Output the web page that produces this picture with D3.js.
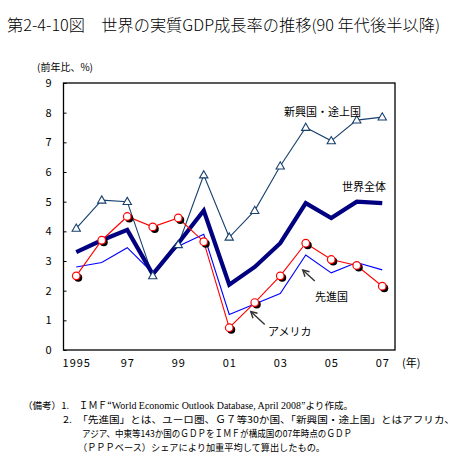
<!DOCTYPE html>
<html><head><meta charset="utf-8">
<script src="https://cdn.jsdelivr.net/npm/d3@7"></script>
<style>body{margin:0;background:#fff}svg{display:block}text{font-family:"Noto Sans CJK JP","Noto Sans",sans-serif}</style>
</head><body><svg id="c" width="462" height="476"></svg>
<script>
const years = [1995,1996,1997,1998,1999,2000,2001,2002,2003,2004,2005,2006,2007];
const xTickLabels = {1995:"1995",1997:"97",1999:"99",2001:"01",2003:"03",2005:"05",2007:"07"};
const yTicks = [0,1,2,3,4,5,6,7,8,9];
const emerging = [4.1,5.05,5.0,2.5,3.55,5.9,3.8,4.7,6.2,7.5,7.05,7.75,7.85];
const world    = [3.3,3.7,4.05,2.55,3.6,4.7,2.2,2.8,3.6,4.95,4.45,5.0,4.95];
const advanced = [2.8,2.95,3.45,2.6,3.5,3.9,1.2,1.55,1.9,3.2,2.6,2.95,2.7];
const usa      = [2.5,3.7,4.5,4.15,4.45,3.65,0.75,1.6,2.5,3.6,3.05,2.85,2.15];
const seriesNames = ["新興国・途上国","世界全体","先進国","アメリカ"];
const title = "第2-4-10図　世界の実質GDP成長率の推移(90 年代後半以降)";
const unitLabel = "(前年比、%)";
const yearLabel = "(年)";
const notes = [
  "（備考）1.　ＩＭＦ“",
  "2.　「先進国」とは、ユーロ圏、Ｇ７等30か国、「新興国・途上国」とはアフリカ、",
  "アジア、中東等143か国のＧＤＰをＩＭＦが構成国の07年時点のＧＤＰ",
  "（ＰＰＰベース）シェアにより加重平均して算出したもの。"
];

const svg = d3.select("#c");
const L=63.5, R=395, T=83, B=350;
const x = d3.scalePoint().domain(years).range([L,R]).padding(0.5);
const y = d3.scaleLinear().domain([0,9]).range([B,T]);

svg.append("text").attr("x",7).attr("y",31).attr("font-size",15.5).attr("font-weight",300)
  .attr("textLength",433).attr("lengthAdjust","spacingAndGlyphs").text(title);
svg.append("text").attr("x",37).attr("y",71).attr("font-size",10).text(unitLabel);

// frame
svg.append("rect").attr("x",L).attr("y",T).attr("width",R-L).attr("height",B-T)
  .attr("fill","none").attr("stroke","#000").attr("stroke-width",1.3);

// y axis
const ya = svg.append("g").attr("transform",`translate(${L},0)`)
  .call(d3.axisLeft(y).tickValues(yTicks).tickSize(-3).tickPadding(12).tickFormat(d3.format("d")));
ya.select(".domain").remove();
ya.selectAll("line").attr("stroke","#000");
ya.selectAll("text").attr("font-size",11).attr("font-family","Arial,'Liberation Sans',sans-serif");

// x axis labels
const xa = svg.append("g").attr("transform",`translate(0,${B})`)
  .call(d3.axisBottom(x).tickValues(Object.keys(xTickLabels).map(Number)).tickSize(0).tickPadding(9).tickFormat(d=>xTickLabels[d]));
xa.select(".domain").remove();
xa.selectAll("text").attr("font-size",11).attr("font-family","Arial,'Liberation Sans',sans-serif").attr("letter-spacing",1);
svg.append("text").attr("x",402).attr("y",367).attr("font-size",11).text(yearLabel);

const line = d3.line().x((d,i)=>x(years[i])).y(d=>y(d));

svg.append("path").datum(emerging).attr("d",line).attr("fill","none").attr("stroke","#17406d").attr("stroke-width",1.1);
svg.append("path").datum(advanced).attr("d",line).attr("fill","none").attr("stroke","#0000ff").attr("stroke-width",1.1);
svg.append("path").datum(world).attr("d",line).attr("fill","none").attr("stroke","#000080").attr("stroke-width",4.2).attr("stroke-linejoin","miter");
svg.append("path").datum(usa).attr("d",line).attr("fill","none").attr("stroke","#ff0000").attr("stroke-width",1.1);

// usa markers
svg.selectAll(".us2").data(usa).enter().append("circle")
  .attr("cx",(d,i)=>x(years[i])+2).attr("cy",d=>y(d)+2).attr("r",4).attr("fill","#000");
svg.selectAll(".us").data(usa).enter().append("circle")
  .attr("cx",(d,i)=>x(years[i])).attr("cy",d=>y(d)).attr("r",3.8)
  .attr("fill","#fff").attr("stroke","#ff0000").attr("stroke-width",1.2);

// triangles
const tri = d3.symbol().type(d3.symbolTriangle).size(30);
svg.selectAll(".tri").data(emerging).enter().append("path")
  .attr("d",tri).attr("transform",(d,i)=>`translate(${x(years[i])},${y(d)+0.5})`)
  .attr("fill","#fff").attr("stroke","#17406d").attr("stroke-width",1.1);

// labels
svg.append("text").attr("x",284).attr("y",116).attr("font-size",11).text(seriesNames[0]);
svg.append("text").attr("x",342).attr("y",191).attr("font-size",11).text(seriesNames[1]);
svg.append("text").attr("x",315).attr("y",301).attr("font-size",11).text(seriesNames[2]);
svg.append("text").attr("x",268).attr("y",336).attr("font-size",11).text(seriesNames[3]);

// arrows
function arrow(x1,y1,x2,y2){
  const g=svg.append("g").attr("stroke","#333").attr("stroke-width",1.4).attr("fill","none");
  g.append("line").attr("x1",x1).attr("y1",y1).attr("x2",x2).attr("y2",y2);
  const a=Math.atan2(y2-y1,x2-x1), h=7, w=0.5;
  g.append("path").attr("d",`M${x2-h*Math.cos(a-w)},${y2-h*Math.sin(a-w)}L${x2},${y2}L${x2-h*Math.cos(a+w)},${y2-h*Math.sin(a+w)}`);
}
arrow(x(2004)+9, y(advanced[9])+26, x(2004)-3, y(advanced[9])+15);
arrow(x(2002)+10, y(usa[7])+22, x(2002)-4, y(usa[7])+9);

// notes
const n = svg.append("g").attr("font-size",9.6);
const t1 = n.append("text").attr("x",23).attr("y",409).attr("textLength",330).attr("lengthAdjust","spacingAndGlyphs");
t1.append("tspan").text(notes[0]);
t1.append("tspan").attr("font-family","'Liberation Serif','DejaVu Serif',serif").attr("font-size",10).text("World Economic Outlook Database, April 2008");
t1.append("tspan").text("”より作成。");
n.append("text").attr("x",63).attr("y",423).attr("textLength",392).attr("lengthAdjust","spacingAndGlyphs").text(notes[1]);
n.append("text").attr("x",82).attr("y",437).attr("textLength",270).attr("lengthAdjust","spacingAndGlyphs").text(notes[2]);
n.append("text").attr("x",78).attr("y",451).attr("textLength",247).attr("lengthAdjust","spacingAndGlyphs").text(notes[3]);
</script></body></html>
